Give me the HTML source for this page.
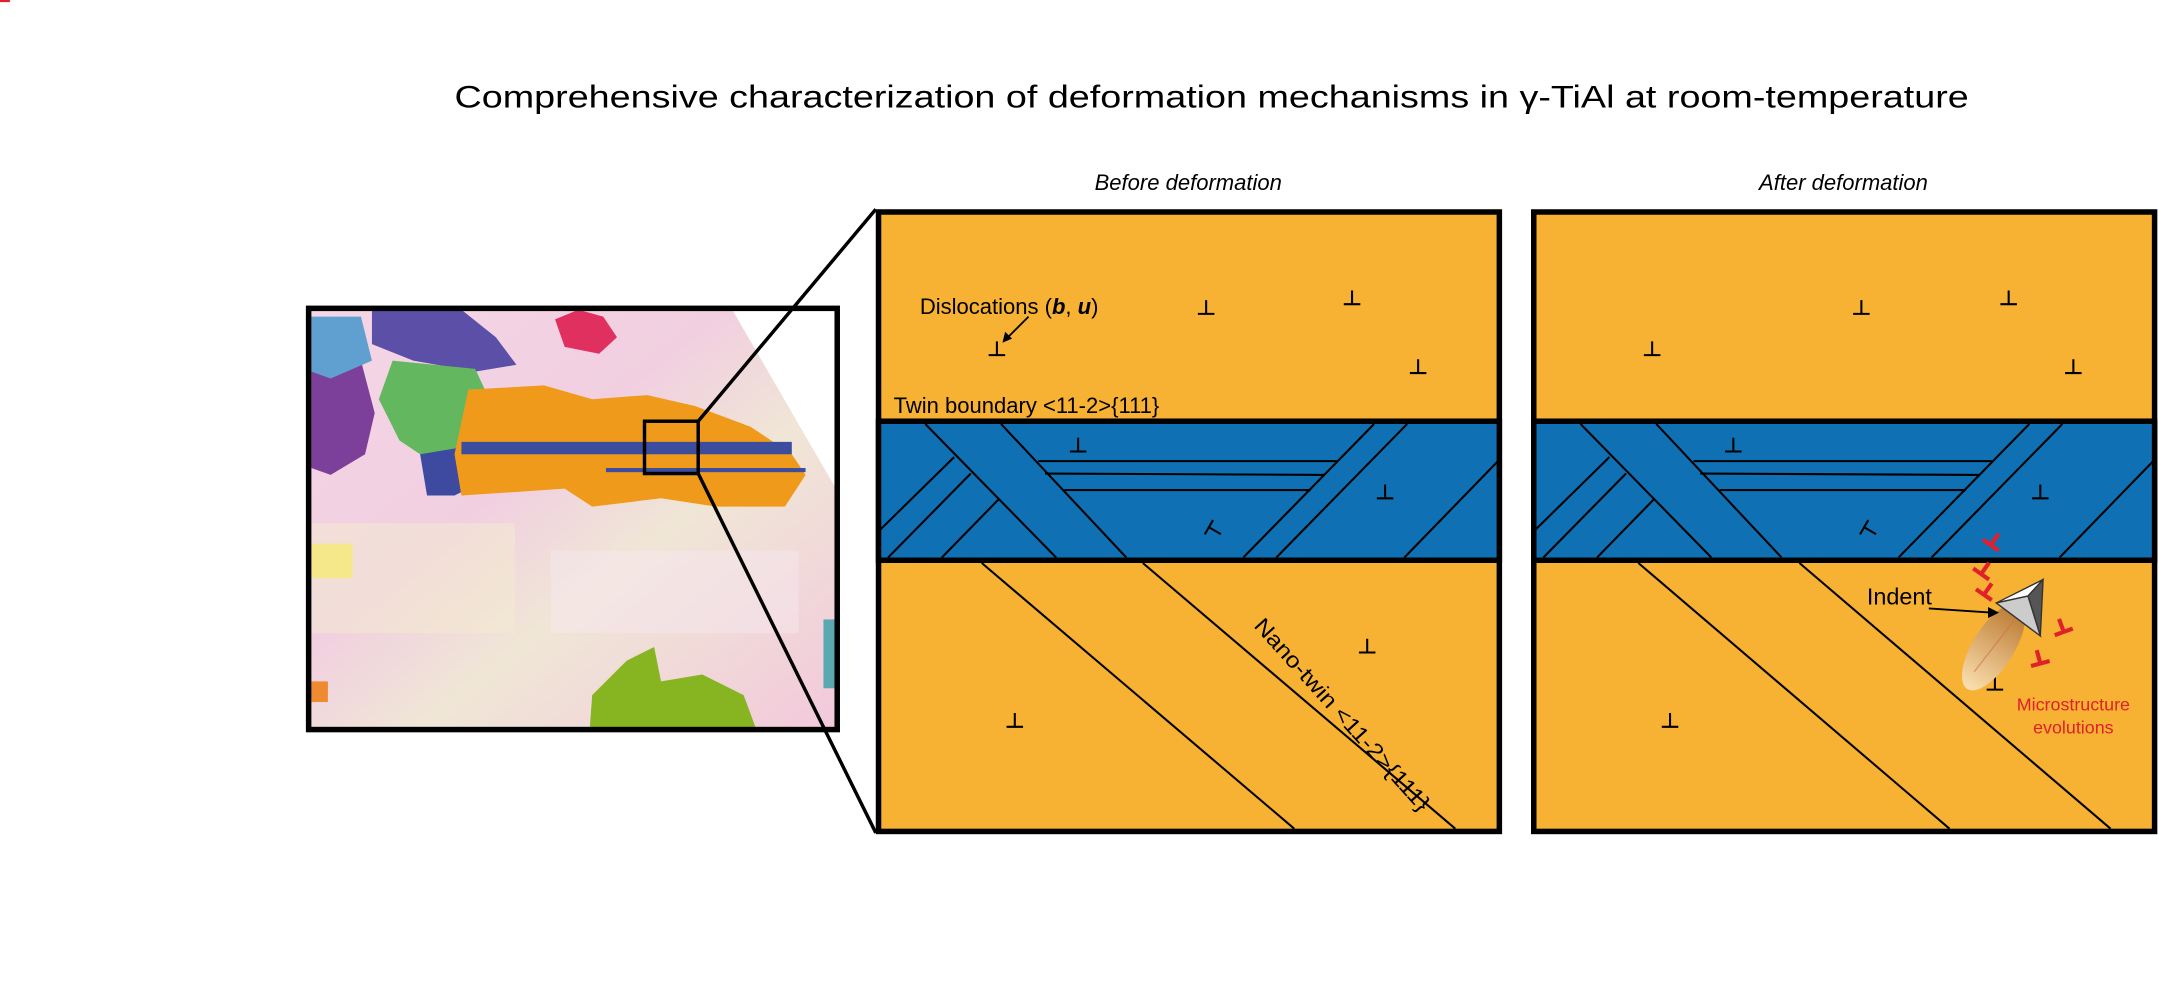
<!DOCTYPE html>
<html><head><meta charset="utf-8"><style>html,body{margin:0;padding:0;background:#fff}svg{display:block}</style></head>
<body>
<svg width="2159" height="998" viewBox="0 0 1568 725" xmlns="http://www.w3.org/2000/svg" font-family="Liberation Sans, Arial, sans-serif">
<defs>
<linearGradient id="eb" x1="0" y1="0" x2="1" y2="1">
<stop offset="0" stop-color="#f4d6e6"/><stop offset="0.4" stop-color="#f1cfe0"/><stop offset="0.6" stop-color="#f0e6d6"/><stop offset="1" stop-color="#f2c8dc"/></linearGradient>
<linearGradient id="ell" x1="0" y1="0" x2="1" y2="0">
<stop offset="0" stop-color="#fbe0b0"/><stop offset="1" stop-color="#b8742a"/></linearGradient>
<clipPath id="ebc"><rect x="224" y="224" width="384" height="306"/></clipPath>
</defs>
<text x="880" y="78" font-size="23" text-anchor="middle" textLength="1100" lengthAdjust="spacingAndGlyphs">Comprehensive characterization of deformation mechanisms in γ-TiAl at room-temperature</text>
<text x="863" y="138" font-size="16" font-style="italic" text-anchor="middle">Before deformation</text>
<text x="1339" y="138" font-size="16" font-style="italic" text-anchor="middle">After deformation</text>

<!-- EBSD -->
<g clip-path="url(#ebc)">
<rect x="222" y="222" width="388" height="310" fill="url(#eb)"/>
<rect x="224" y="380" width="150" height="80" fill="#f3ecd0" opacity="0.5"/>
<rect x="400" y="400" width="180" height="60" fill="#f5e8f0" opacity="0.5"/>
<polygon points="530,222 610,222 610,360" fill="#fff"/>
<polygon points="270,225 335,225 360,245 375,265 345,270 300,262 270,250" fill="#5b4fa8"/>
<polygon points="285,262 345,268 360,300 350,335 320,340 290,320 275,290" fill="#63b85f"/>
<polygon points="226,260 262,262 272,300 265,330 240,345 226,340" fill="#7c3f9a"/>
<polygon points="226,230 262,230 270,262 240,275 226,270" fill="#5fa0d0"/>
<polygon points="305,330 335,325 340,355 330,360 310,360" fill="#3d4aa0"/>
<polygon points="340,283 395,280 430,290 470,287 505,295 545,310 575,330 585,345 570,368 520,368 480,362 430,368 410,355 335,360 330,330" fill="#f09a1c"/>
<rect x="335" y="321" width="240" height="9" fill="#3c4d9e"/>
<rect x="440" y="340" width="145" height="3" fill="#3c4d9e"/>
<polygon points="403,232 420,225 438,230 448,245 435,257 410,252" fill="#e03060"/>
<polygon points="430,505 455,480 475,470 480,495 510,490 540,505 550,532 428,532" fill="#86b521"/>
<rect x="226" y="395" width="30" height="25" fill="#f4e88a"/>
<rect x="598" y="450" width="12" height="50" fill="#5aa8b0"/>
<rect x="226" y="495" width="12" height="15" fill="#f08a30"/>
</g>
<rect x="224" y="224" width="384" height="306" fill="none" stroke="#000" stroke-width="4"/>
<rect x="468" y="306" width="39" height="38" fill="none" stroke="#000" stroke-width="2.5"/>
<line x1="507" y1="306" x2="636" y2="152" stroke="#000" stroke-width="2.5"/>
<line x1="507" y1="344" x2="636" y2="605" stroke="#000" stroke-width="2.5"/>

<!-- Panels -->
<g stroke="#000" fill="none">
<rect x="638" y="154" width="451" height="450" fill="#f7b233" stroke-width="4"/>
<rect x="638" y="306" width="451" height="101" fill="#1070b4" stroke-width="4"/>
<g stroke-width="1.5">
<line x1="672" y1="308" x2="767" y2="405"/>
<line x1="727" y1="308" x2="818" y2="405"/>
<line x1="639" y1="385" x2="693" y2="332"/>
<line x1="645" y1="405" x2="705" y2="344"/>
<line x1="684" y1="405" x2="725" y2="363"/>
<line x1="754" y1="335" x2="971" y2="335"/>
<line x1="759" y1="344" x2="962" y2="345"/>
<line x1="773" y1="356" x2="952" y2="356"/>
<line x1="903" y1="405" x2="998" y2="308"/>
<line x1="927" y1="405" x2="1022" y2="308"/>
<line x1="1020" y1="405" x2="1088" y2="335"/>
<line x1="713" y1="409" x2="940" y2="602"/>
<line x1="830" y1="409" x2="1057" y2="602"/>
</g>
</g>
<g stroke="#000" fill="none">
<rect x="1114" y="154" width="451" height="450" fill="#f7b233" stroke-width="4"/>
<rect x="1114" y="306" width="451" height="101" fill="#1070b4" stroke-width="4"/>
<g stroke-width="1.5">
<line x1="1148" y1="308" x2="1243" y2="405"/>
<line x1="1203" y1="308" x2="1294" y2="405"/>
<line x1="1115" y1="385" x2="1169" y2="332"/>
<line x1="1121" y1="405" x2="1181" y2="344"/>
<line x1="1160" y1="405" x2="1201" y2="363"/>
<line x1="1230" y1="335" x2="1447" y2="335"/>
<line x1="1235" y1="344" x2="1438" y2="345"/>
<line x1="1249" y1="356" x2="1428" y2="356"/>
<line x1="1379" y1="405" x2="1474" y2="308"/>
<line x1="1403" y1="405" x2="1498" y2="308"/>
<line x1="1496" y1="405" x2="1564" y2="335"/>
<line x1="1190" y1="409" x2="1416" y2="602"/>
<line x1="1307" y1="409" x2="1533" y2="602"/>
</g>
</g>

<!-- dislocation symbols -->
<g stroke="#000" stroke-width="1.5" fill="none">
<path id="d" d="M-6,0 H6 M0,0 V-10"/>
<use href="#d" x="876" y="228"/><use href="#d" x="982" y="221"/><use href="#d" x="1030" y="271"/><use href="#d" x="724" y="258"/>
<use href="#d" x="783" y="328"/><use href="#d" x="1006" y="362"/><use href="#d" x="993" y="474"/><use href="#d" x="737" y="528"/>
<use href="#d" transform="translate(878,383) rotate(120)"/>
<use href="#d" x="1352" y="228"/><use href="#d" x="1459" y="221"/><use href="#d" x="1506" y="271"/><use href="#d" x="1200" y="258"/>
<use href="#d" x="1259" y="328"/><use href="#d" x="1482" y="362"/><use href="#d" x="1213" y="528"/><use href="#d" x="1449" y="501"/>
<use href="#d" transform="translate(1354,383) rotate(120)"/>
</g>
<text x="668" y="228" font-size="16">Dislocations (<tspan font-weight="bold" font-style="italic">b</tspan>, <tspan font-weight="bold" font-style="italic">u</tspan>)</text>
<line x1="747" y1="230" x2="731" y2="246" stroke="#000" stroke-width="1.3"/>
<path d="M728,249 l2,-8 l5,5 z" fill="#000"/>
<text x="649" y="300" font-size="16">Twin boundary &lt;11-2&gt;{111}</text>
<text transform="translate(910,455) rotate(48)" font-size="16" textLength="182" lengthAdjust="spacingAndGlyphs">Nano-twin &lt;11-2&gt;{111}</text>

<!-- indent -->
<ellipse cx="1448" cy="470" rx="36" ry="15" transform="rotate(-58 1448 470)" fill="url(#ell)"/>
<line x1="1434" y1="488" x2="1462" y2="452" stroke="#d07050" stroke-width="1" opacity="0.6"/>
<polygon points="1450,438 1484,421 1473,433" fill="#fff" stroke="#333" stroke-width="1"/>
<polygon points="1484,421 1482,462 1473,433" fill="#555" stroke="#333" stroke-width="1"/>
<polygon points="1450,438 1473,433 1482,462" fill="#ccc" stroke="#333" stroke-width="1"/>
<text x="1356" y="439" font-size="17">Indent</text>
<line x1="1401" y1="442" x2="1446" y2="445" stroke="#000" stroke-width="1.3"/>
<path d="M1452,445 l-8,-4 l0,8 z" fill="#000"/>
<g stroke="#e0202a" stroke-width="3" fill="none">
<path id="r" d="M-7,0 H7 M0,0 V-10"/>
<use href="#r" transform="translate(1446,396) rotate(35)"/>
<use href="#r" transform="translate(1439,417) rotate(35)"/>
<use href="#r" transform="translate(1441,432) rotate(35)"/>
<use href="#r" transform="translate(1499,459) rotate(-20)"/>
<use href="#r" transform="translate(1482,482) rotate(-15)"/>
</g>
<text x="1506" y="516" font-size="13" fill="#e0202a" text-anchor="middle">Microstructure</text>
<text x="1506" y="533" font-size="13" fill="#e0202a" text-anchor="middle">evolutions</text>
</svg>
</body></html>
